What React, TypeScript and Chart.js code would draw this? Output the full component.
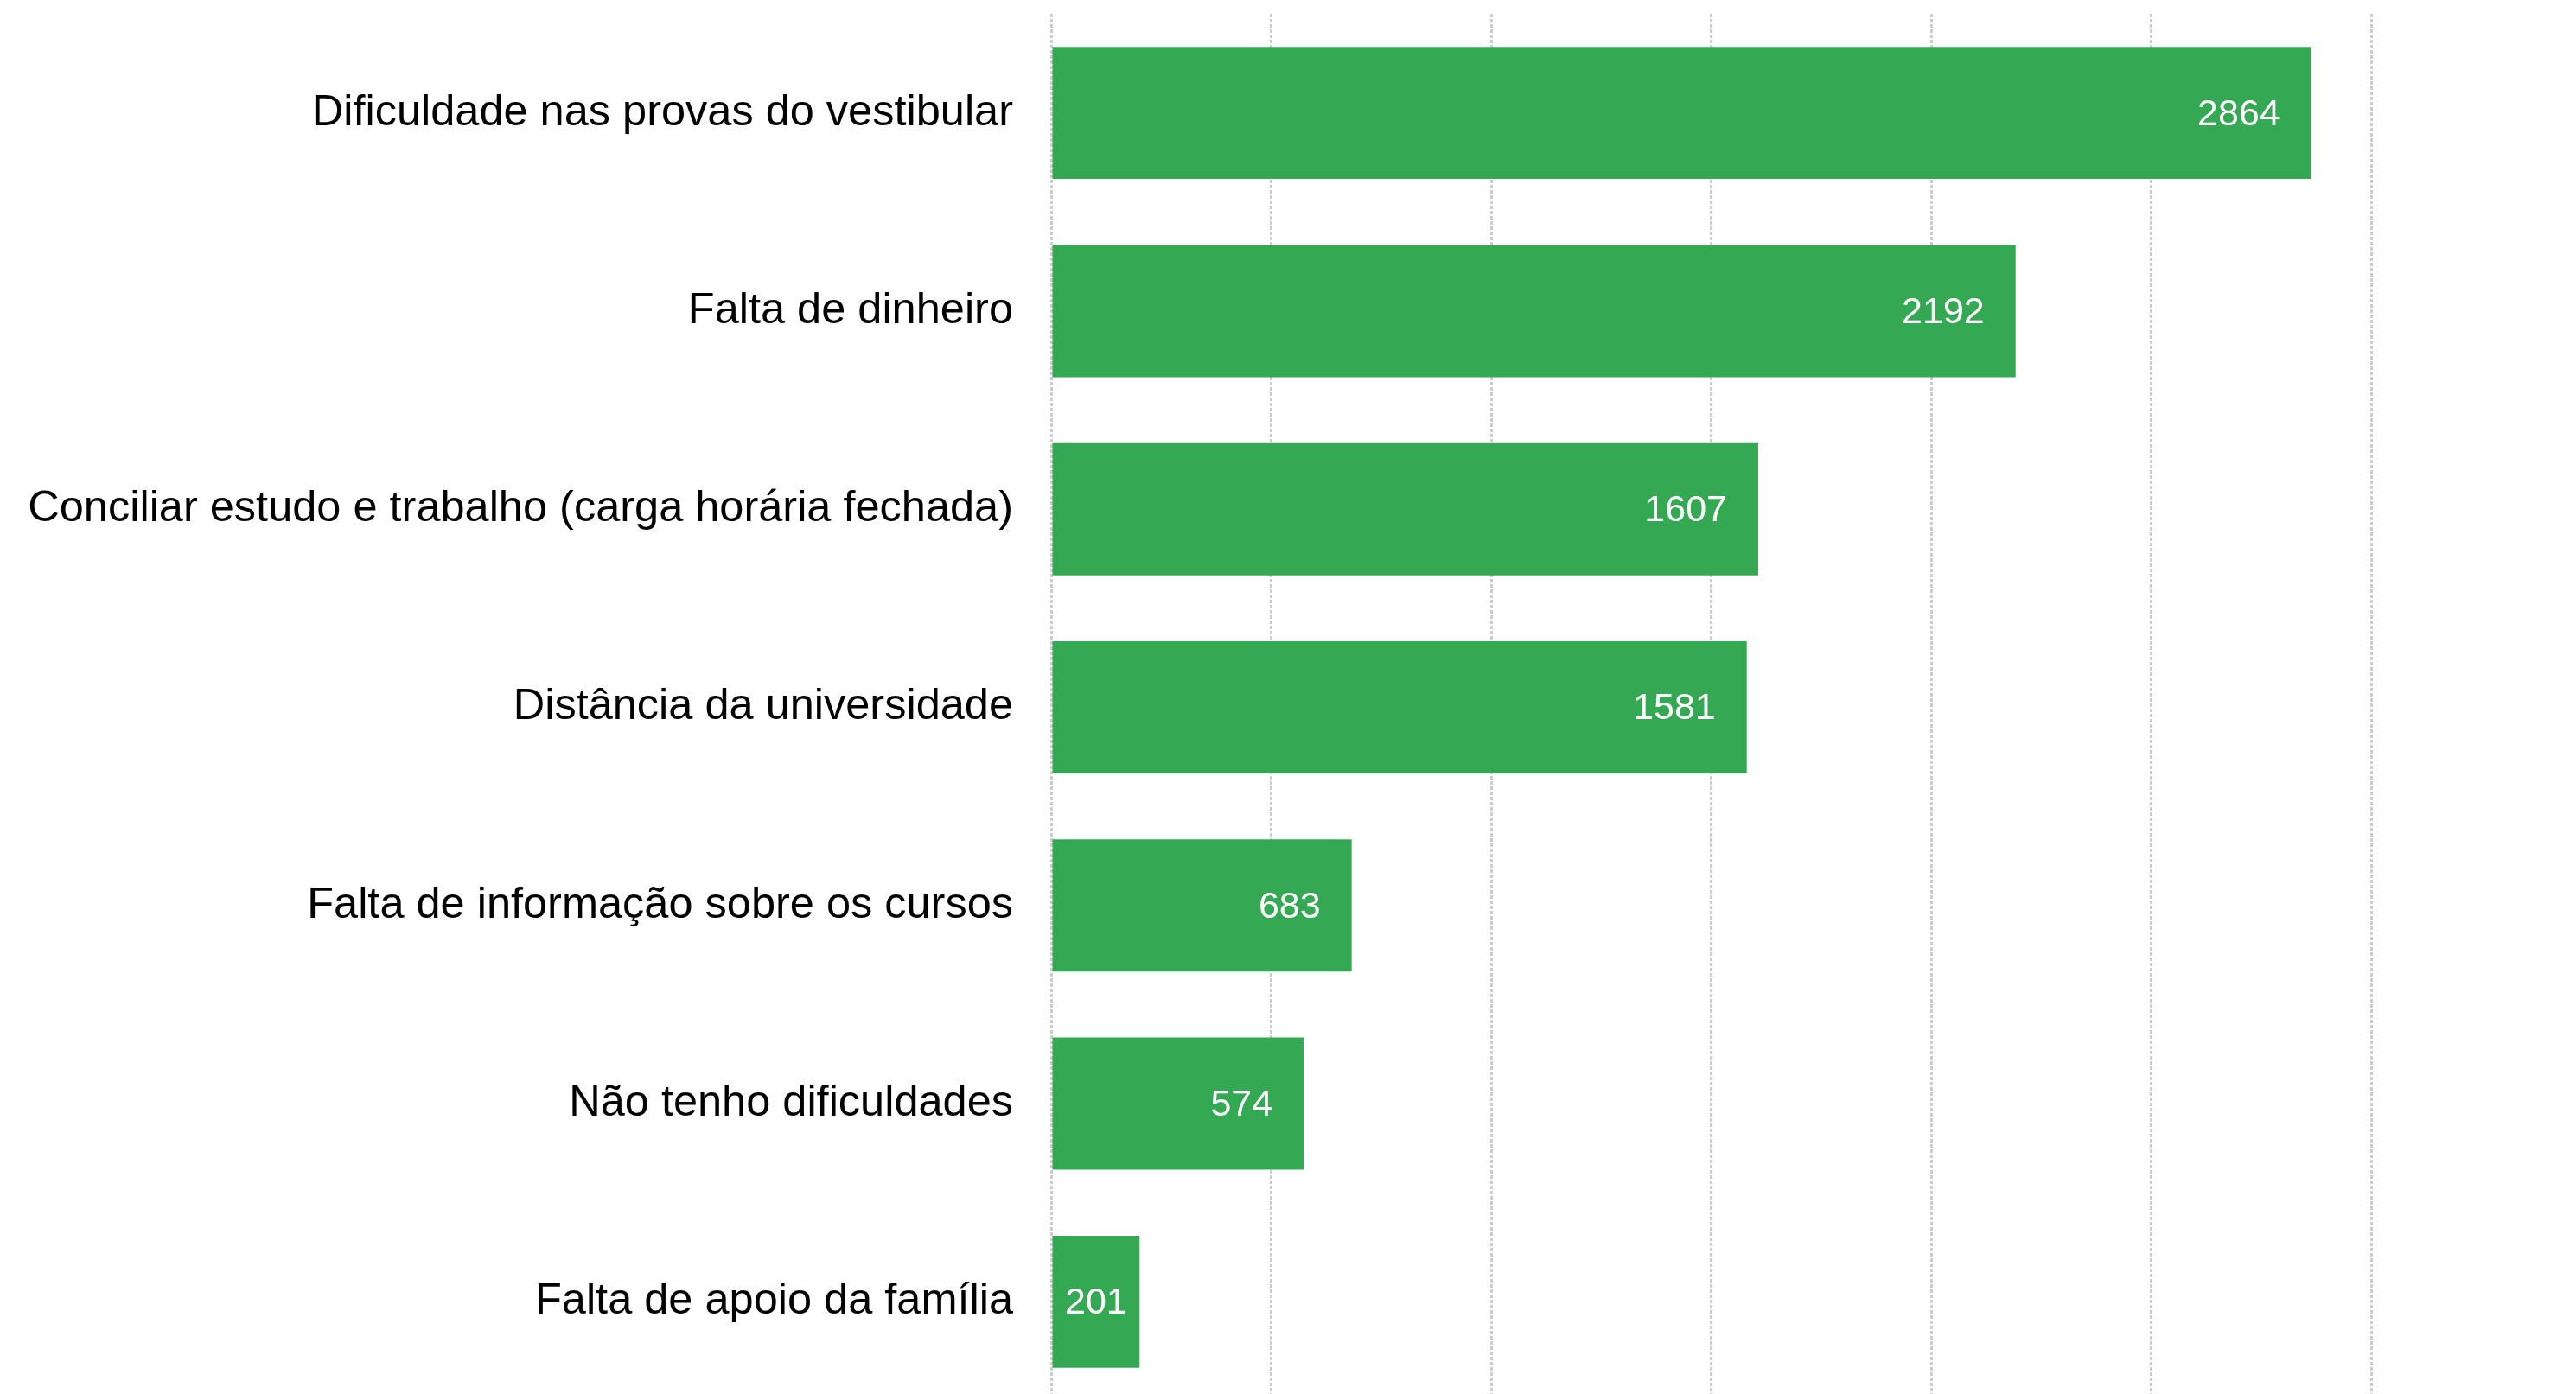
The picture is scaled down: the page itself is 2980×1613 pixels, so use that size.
import React, { useEffect, useRef } from "react";
import { Chart, registerables } from "chart.js";

Chart.register(...registerables);

const categories = [
  "Dificuldade nas provas do vestibular",
  "Falta de dinheiro",
  "Conciliar estudo e trabalho (carga horária fechada)",
  "Distância da universidade",
  "Falta de informação sobre os cursos",
  "Não tenho dificuldades",
  "Falta de apoio da família",
];
const values = [2864, 2192, 1607, 1581, 683, 574, 201];
const axisMin = 0;
const axisMax = 3000;
const axisStep = 500;

const FONT = "'Liberation Sans', Arial, sans-serif";

const valueLabels = {
  id: "valueLabels",
  afterDatasetsDraw(chart: any) {
    const ctx = chart.ctx;
    const meta = chart.getDatasetMeta(0);
    ctx.save();
    ctx.font = `43px ${FONT}`;
    ctx.fillStyle = "#ffffff";
    ctx.textBaseline = "middle";
    ctx.textAlign = "left";
    meta.data.forEach((bar: any, i: number) => {
      const text = String(values[i]);
      const w = ctx.measureText(text).width;
      const start = bar.base;
      const end = bar.x;
      let x;
      if (end - start >= w + 36 + 14) {
        x = end - 36 - w;
      } else {
        x = (start + end) / 2 - w / 2;
      }
      ctx.fillText(text, x, bar.y + 2);
    });
    ctx.restore();
  },
};

export default function App() {
  const ref = useRef<HTMLCanvasElement>(null);
  useEffect(() => {
    if (!ref.current) return;
    const chart = new Chart(ref.current, {
      type: "bar",
      data: {
        labels: categories,
        datasets: [
          {
            data: values,
            backgroundColor: "#35A853",
            borderWidth: 0,
            barPercentage: 0.667,
            categoryPercentage: 1,
          },
        ],
      },
      options: {
        indexAxis: "y",
        responsive: false,
        animation: false,
        devicePixelRatio: 1,
        layout: { padding: { top: 16, right: 237, bottom: 0, left: 0 } },
        plugins: {
          legend: { display: false },
          tooltip: { enabled: false },
        },
        scales: {
          x: {
            min: axisMin,
            max: axisMax,
            ticks: { display: false, stepSize: axisStep },
            grid: {
              display: true,
              color: "#cccccc",
              lineWidth: 3,
              drawTicks: false,
            },
            border: { display: false, dash: [4, 2] },
            afterFit: (scale: any) => {
              scale.height = 0;
              scale.paddingLeft = 0;
              scale.paddingRight = 0;
              scale.paddingTop = 0;
              scale.paddingBottom = 0;
            },
          },
          y: {
            ticks: {
              color: "#000000",
              font: { family: FONT, size: 50.5 },
              padding: 44,
            },
            grid: { display: false, drawTicks: false },
            border: { display: false },
            afterFit: (scale: any) => {
              scale.width = 1216;
              scale.paddingTop = 0;
              scale.paddingBottom = 0;
              scale.paddingLeft = 0;
              scale.paddingRight = 0;
            },
          },
        },
      },
      plugins: [valueLabels],
    });
    return () => chart.destroy();
  }, []);
  return (
    <div style={{ position: "fixed", left: 0, top: 0, width: 2980, height: 1621, background: "#fff" }}>
      <canvas ref={ref} width={2980} height={1621} style={{ width: 2980, height: 1621, display: "block" }} />
    </div>
  );
}
